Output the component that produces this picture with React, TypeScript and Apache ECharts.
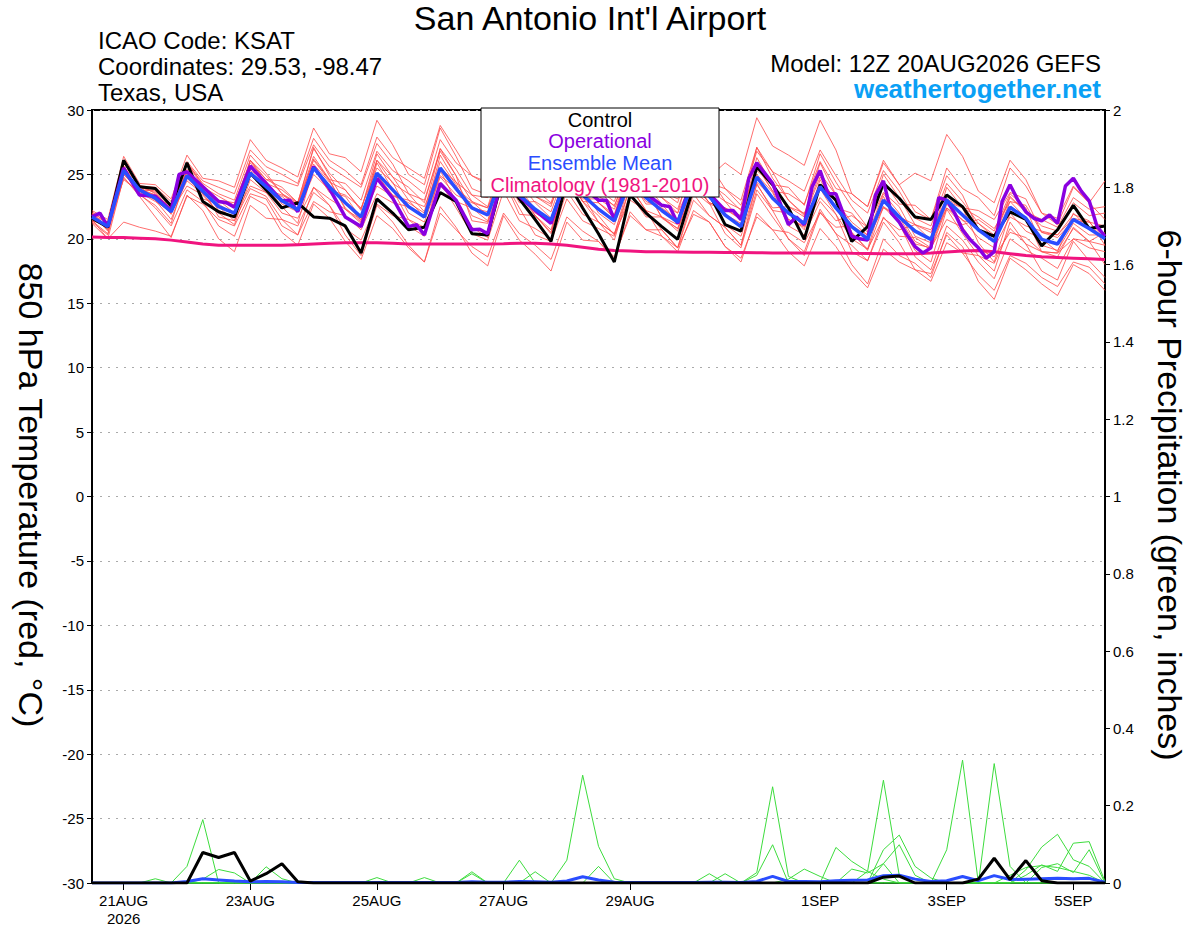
import React, { useEffect, useRef } from "react";
import * as echarts from "echarts";

const FONT = "'Liberation Sans', Arial, Helvetica, sans-serif";
const STEP_HOURS = 6;

// x-axis tick positions (hours after 12Z 20AUG2026) and their labels
const tickHours = [12, 60, 108, 156, 204, 276, 324, 372];
const tickLabels = ["21AUG\n2026", "23AUG", "25AUG", "27AUG", "29AUG", "1SEP", "3SEP", "5SEP"];

// 850 hPa temperature (°C), 6-hourly
const control = [
  21.6, 20.9, 26.1, 24.05, 23.9, 22.55, 25.9, 22.9, 22.1, 21.7, 25.1, 23.8,
  22.4, 22.8, 21.7, 21.6, 21.0, 18.9, 23.1, 22.0, 20.7, 20.9, 23.6, 22.9,
  20.4, 20.3, 25.0, 23.1, 21.5, 19.8, 24.5, 22.4, 20.4, 18.2, 23.4, 22.0,
  20.95, 19.96, 24.0, 23.5, 21.1, 20.6, 25.6, 24.2, 22.4, 19.96, 24.2, 23.0,
  19.8, 20.95, 24.3, 23.15, 21.7, 21.5, 23.4, 22.5, 20.7, 20.2, 22.1, 21.5,
  19.45, 20.7, 22.6, 20.8, 21.0,
];

const ensembleMean = [
  21.7, 20.95, 25.3, 23.8, 23.15, 22.1, 24.9, 23.7, 22.5, 22.0, 25.1, 24.05,
  22.95, 22.25, 25.5, 24.05, 22.8, 21.7, 25.1, 23.8, 22.5, 21.7, 25.5, 23.9,
  22.4, 21.85, 25.3, 23.4, 22.3, 21.45, 24.8, 23.4, 22.3, 21.4, 24.6, 23.2,
  22.2, 21.3, 24.5, 23.3, 21.85, 20.95, 24.8, 23.15, 22.0, 21.2, 24.05, 22.4,
  20.95, 20.0, 23.0, 21.7, 20.6, 19.96, 23.0, 21.85, 20.7, 19.8, 22.45, 21.6,
  19.96, 19.6, 21.5, 20.8, 20.0,
];

// operational run, [hour, °C] (3-hourly where visible)
const operational: [number, number][] = [
  [0, 21.7], [3, 22.0], [6, 20.95], [12, 25.5], [18, 23.4], [24, 23.3], [30, 22.2], [33, 25.0],
  [36, 25.2], [42, 24.05], [48, 22.9], [51, 22.8], [54, 22.45], [60, 25.65], [66, 24.3], [72, 22.95],
  [75, 23.0], [78, 22.1], [84, 25.6], [90, 23.9], [96, 21.7], [102, 20.95], [108, 24.7], [114, 23.15],
  [120, 20.95], [123, 21.1], [126, 20.3], [132, 24.3], [138, 23.0], [144, 20.7], [147, 20.75], [150, 20.4],
  [156, 25.2], [162, 23.3], [168, 22.2], [174, 21.2], [180, 25.0], [186, 24.0], [192, 23.0], [195, 23.0],
  [198, 21.5], [204, 25.0], [210, 23.5], [216, 22.6], [219, 22.5], [222, 21.2], [228, 25.0], [234, 23.5],
  [240, 22.2], [243, 22.2], [246, 21.5], [249, 24.7], [252, 25.9], [258, 24.3], [264, 21.1], [267, 21.7],
  [270, 21.1], [273, 24.05], [276, 25.3], [279, 23.5], [282, 23.5], [288, 20.2], [291, 20.0], [294, 19.9],
  [297, 23.4], [300, 24.5], [303, 22.0], [306, 21.3], [309, 20.3], [312, 19.4], [315, 18.9], [318, 19.3],
  [321, 23.2], [324, 23.0], [327, 22.0], [330, 20.7], [333, 19.9], [336, 19.3], [339, 18.5], [342, 19.0],
  [345, 22.9], [348, 24.2], [351, 23.0], [354, 22.1], [357, 21.6], [360, 21.4], [363, 21.85], [366, 21.2],
  [369, 24.1], [372, 24.7], [375, 23.7], [378, 22.95], [381, 20.95], [384, 20.2],
];

const climatology = [
  20.15, 20.1, 20.1, 20.05, 20.0, 19.9, 19.75, 19.6, 19.5, 19.5, 19.5, 19.5,
  19.5, 19.55, 19.6, 19.65, 19.7, 19.7, 19.7, 19.65, 19.6, 19.6, 19.6, 19.6,
  19.6, 19.6, 19.62, 19.65, 19.65, 19.6, 19.5, 19.35, 19.2, 19.1, 19.05, 19.0,
  19.0, 18.98, 18.95, 18.95, 18.93, 18.93, 18.92, 18.9, 18.9, 18.9, 18.9, 18.9,
  18.88, 18.87, 18.85, 18.85, 18.85, 18.9, 18.98, 19.05, 19.1, 19.0, 18.85, 18.7,
  18.6, 18.55, 18.5, 18.45, 18.4,
];

// ensemble members (red), 6-hourly °C
const m01 = [22.0,21.3,25.9,24.1, 24.0,22.9,26.0,24.5, 24.0,23.5,26.9,25.6, 25.0,24.3,27.8,26.1, 25.3,24.2,27.9,26.3, 25.5,24.7,28.8,26.9, 24.9,24.4,28.1,25.9, 24.3,23.5,27.1,25.4, 23.8,22.9,26.4,24.7, 23.2,22.3,25.8,24.3, 23.9,23.0,27.1,25.2, 24.5,23.7,26.9,24.9, 23.0,22.0,25.3,23.7, 21.6,21.0,24.3,22.9, 21.2,20.3,23.3,22.1, 21.0,20.6,22.8,21.8, 22.0];
const m02 = [21.4,20.4,24.7,23.5, 22.4,21.0,23.8,22.9, 21.0,20.2,23.3,22.6, 20.5,19.5,22.7,21.6, 19.8,18.4,21.8,20.8, 19.3,18.2,22.0,20.7, 19.4,18.6,22.0,20.4, 19.5,18.4,21.7,20.6, 19.8,18.6,21.8,20.7, 20.2,19.0,22.2,21.3, 19.4,18.2,22.0,20.7, 19.0,17.9,20.8,19.4, 17.5,16.2,19.2,18.2, 17.6,16.7,19.7,18.9, 17.2,16.0,18.7,18.1, 17.0,16.3,18.2,17.8, 16.5];
const m03 = [22.2,21.5,26.4,24.3, 24.2,23.1,26.5,24.7, 24.5,24.0,27.7,26.1, 25.5,24.8,28.6,26.6, 26.3,25.2,29.2,27.3, 25.0,24.2,28.6,26.4, 23.9,23.4,27.4,24.9, 23.3,22.5,26.4,24.4, 22.8,21.9,25.7,23.7, 23.7,22.8,26.6,24.8, 25.9,25.0,29.4,27.2, 26.5,25.7,29.2,26.9, 23.5,22.5,26.1,24.2, 25.1,24.5,28.1,26.4, 23.7,22.8,26.1,24.6, 22.0,21.6,24.1,22.8, 24.5];
const m04 = [21.2,20.0,24.8,23.3, 21.7,20.1,23.4,22.2, 20.0,19.0,22.6,21.6, 21.5,20.3,24.0,22.6, 20.3,18.7,22.6,21.3, 19.5,18.2,22.5,20.9, 18.9,17.9,21.8,19.9, 18.8,17.5,21.3,19.9, 19.8,18.4,22.1,20.7, 20.7,19.3,23.0,21.8, 20.9,19.5,23.8,22.2, 20.0,18.7,22.1,20.4, 18.0,16.5,20.0,18.7, 18.1,17.0,20.5,19.4, 16.7,15.3,18.5,17.6, 16.5,15.6,18.0,17.3, 16.0];
const m05 = [21.9,20.7,26.0,24.0, 23.7,22.1,25.9,24.2, 23.0,22.0,26.1,24.6, 24.0,22.8,27.0,25.1, 23.8,22.2,26.6,24.8, 23.0,21.7,26.5,24.4, 22.4,21.4,25.8,23.4, 21.8,20.5,24.8,22.9, 21.3,19.9,24.1,22.2, 20.7,19.3,23.5,21.8, 20.9,19.5,24.3,22.2, 22.0,20.7,24.6,22.4, 22.0,20.5,24.5,22.7, 22.6,21.5,25.5,23.9, 23.2,21.8,25.5,24.1, 22.0,21.1,24.0,22.8, 21.5];
const m06 = [21.5,21.1,24.6,23.6, 22.9,22.1,24.1,23.4, 22.0,21.8,24.1,23.6, 22.0,21.6,24.0,23.1, 22.3,21.5,24.1,23.3, 23.0,22.5,25.5,24.4, 23.4,23.2,25.8,24.4, 23.8,23.3,25.8,24.9, 24.3,23.7,26.1,25.2, 23.7,23.1,25.5,24.8, 22.9,22.3,25.3,24.2, 22.5,22.0,24.1,22.9, 21.0,20.3,22.5,21.7, 19.6,19.3,21.5,20.9, 19.2,18.6,20.5,20.1, 19.0,18.9,20.0,19.8, 19.5];
const m07 = [22.1,21.2,25.9,24.2, 23.5,22.2,25.4,24.0, 23.3,22.6,26.1,24.9, 23.5,22.6,26.2,24.6, 24.3,23.0,26.8,25.3, 24.5,23.5,27.7,25.9, 24.9,24.2,28.0,25.9, 23.8,22.8,26.5,24.9, 22.8,21.7,25.3,23.7, 21.7,20.6,24.2,22.8, 20.4,19.3,23.5,21.7, 20.0,19.0,22.3,20.4, 19.5,18.3,21.7,20.2, 20.1,19.3,22.7,21.4, 21.2,20.1,23.2,22.1, 21.5,20.9,23.2,22.3, 22.5];
const m08 = [21.3,20.3,25.7,23.4, 22.6,21.2,25.1,23.1, 22.7,21.9,26.1,24.3, 23.8,22.8,27.1,24.9, 22.8,21.4,25.9,23.8, 21.5,20.4,25.3,22.9, 20.9,20.1,24.6,21.9, 21.8,20.7,25.1,22.9, 22.8,21.6,25.9,23.7, 23.2,22.0,26.3,24.3, 23.4,22.2,27.1,24.7, 23.0,21.9,25.9,23.4, 20.5,19.2,23.3,21.2, 19.1,18.2,22.3,20.4, 18.7,17.5,21.3,19.6, 17.5,16.8,19.8,18.3, 17.0];
const m09 = [21.8,21.3,25.0,23.9, 23.4,22.5,24.7,23.9, 21.7,21.4,23.9,23.3, 21.5,21.0,23.6,22.6, 20.8,19.9,22.7,21.8, 21.5,20.9,24.1,22.9, 22.4,22.1,24.9,23.4, 23.3,22.7,25.4,24.4, 23.3,22.6,25.2,24.2, 22.7,22.0,24.6,23.8, 21.9,21.2,24.4,23.2, 21.5,20.9,23.2,21.9, 20.0,19.2,21.6,20.7, 21.1,20.7,23.1,22.4, 22.2,21.5,23.6,23.1, 20.5,20.3,21.6,21.3, 20.0];
const m10 = [21.6,20.9,25.6,23.7, 23.8,22.7,25.9,24.3, 23.5,23.0,26.5,25.1, 23.5,22.8,26.4,24.6, 22.3,21.2,25.0,23.3, 21.0,20.2,24.4,22.4, 20.4,19.9,23.7,21.4, 20.8,20.0,23.7,21.9, 21.3,20.4,24.0,22.2, 21.7,20.8,24.4,22.8, 22.4,21.5,25.7,23.7, 23.5,22.7,26.0,23.9, 23.5,22.5,25.9,24.2, 22.1,21.5,24.9,23.4, 20.7,19.8,22.9,21.6, 19.0,18.6,20.9,19.8, 18.0];
const m11 = [22.0,20.9,25.6,24.1, 23.0,21.5,24.7,23.5, 22.0,21.1,24.6,23.6, 23.3,22.2,25.8,24.4, 23.8,22.3,26.1,24.8, 24.0,22.8,27.0,25.4, 23.4,22.5,26.3,24.4, 22.8,21.6,25.3,23.9, 23.8,22.5,26.1,24.7, 24.7,23.4,27.0,25.8, 23.9,22.6,26.8,25.2, 23.0,21.8,25.1,23.4, 20.5,19.1,22.5,21.2, 18.6,17.6,21.0,19.9, 18.2,16.9,20.0,19.1, 18.5,17.7,20.0,19.3, 19.0];
const m12 = [21.4,21.0,25.3,23.5, 23.2,22.4,25.2,23.7, 23.0,22.8,25.9,24.6, 24.5,24.1,27.3,25.6, 24.8,24.0,27.4,25.8, 23.5,23.0,26.8,24.9, 21.4,21.2,24.6,22.4, 20.3,19.8,23.1,21.4, 20.8,20.2,23.4,21.7, 21.7,21.1,24.3,22.8, 22.4,21.8,25.6,23.7, 21.5,21.0,23.9,21.9, 19.0,18.3,21.3,19.7, 17.6,17.3,20.3,18.9, 18.7,18.1,20.8,19.6, 19.0,18.9,20.8,19.8, 20.5];
const m13 = [21.5,20.0,21.3,20.9, 20.6,20.2,23.3,22.7, 21.5,21.0,23.5,23.1, 21.0,20.3,22.9,22.1, 21.8,20.7,23.5,22.8, 22.5,21.7,24.9,23.9, 22.9,22.4,25.2,23.9, 22.3,21.5,24.2,23.4, 21.3,20.4,23.0,22.2, 20.2,19.3,21.9,21.3, 19.4,18.5,21.7,20.7, 20.5,19.7,22.0,20.9, 21.0,20.0,22.4,21.7, 21.1,20.5,22.9,22.4, 21.7,20.8,22.9,22.6, 20.5,20.1,21.4,21.3, 21.0];
const m14 = [21.9,20.6,26.0,24.0, 23.6,21.9,25.8,24.1, 22.5,21.4,25.6,24.1, 22.5,21.2,25.5,23.6, 23.3,21.6,26.1,24.3, 23.5,22.1,27.0,24.9, 22.9,21.8,26.3,23.9, 21.8,20.4,24.8,22.9, 21.8,20.3,24.6,22.7, 22.7,21.2,25.5,23.8, 22.9,21.4,26.3,24.2, 24.0,22.6,26.6,24.4, 22.5,20.9,25.0,23.2, 21.1,19.9,24.0,22.4, 19.7,18.2,22.0,20.6, 20.0,19.0,22.0,20.8, 21.0];
const m15 = [21.7,21.0,25.5,23.8, 23.4,22.3,25.3,23.9, 22.2,21.7,25.0,23.8, 23.4,22.7,26.1,24.5, 22.4,21.3,24.9,23.4, 22.8,22.0,26.0,24.2, 21.8,21.3,24.9,22.8, 22.9,22.1,25.6,24.0, 22.0,21.1,24.5,22.9, 22.4,21.5,24.9,23.5, 21.1,20.2,24.2,22.4, 22.5,21.7,24.8,22.9, 21.3,20.3,23.5,22.0, 19.8,19.2,22.4,21.1, 21.5,20.6,23.5,22.4, 19.5,19.1,21.2,20.3, 20.3];
const m16 = [21.6,21.0,25.0,23.7, 23.0,22.0,24.5,23.5, 22.9,22.5,25.3,24.5, 22.7,22.1,25.0,23.8, 23.4,22.4,25.5,24.4, 22.0,21.3,24.8,23.4, 22.8,22.4,25.5,23.8, 22.0,21.3,24.3,23.1, 23.1,22.3,25.2,24.0, 21.6,20.8,23.7,22.7, 22.3,21.5,25.0,23.6, 21.0,20.3,22.9,21.4, 21.8,20.9,23.6,22.5, 20.2,19.7,22.4,21.5, 20.1,19.3,21.7,21.0, 20.6,20.3,21.9,21.4, 19.5];
const members = [m01, m02, m03, m04, m05, m06, m07, m08, m09, m10, m11, m12, m13, m14, m15, m16];

// 6-hour precipitation (inches)
const controlPrecip = [
  0, 0, 0, 0, 0, 0, 0, 0.079, 0.066, 0.079, 0.005, 0.024, 0.05, 0.003, 0, 0,
  0, 0, 0, 0, 0, 0, 0, 0, 0, 0, 0, 0, 0, 0, 0, 0,
  0, 0, 0, 0, 0, 0, 0, 0, 0, 0, 0, 0, 0, 0, 0, 0,
  0, 0, 0.015, 0.018, 0, 0, 0, 0, 0.01, 0.064, 0.009, 0.058, 0.006, 0, 0, 0, 0,
];
const meanPrecip = [
  0, 0, 0, 0, 0, 0, 0.004, 0.011, 0.008, 0.005, 0.003, 0.004, 0.003, 0.001, 0.001, 0.001,
  0.001, 0.001, 0.001, 0.001, 0.001, 0.001, 0.001, 0.001, 0.003, 0.002, 0.002, 0.004, 0.003, 0.002, 0.005, 0.016,
  0.008, 0.002, 0.001, 0.001, 0.001, 0.001, 0.001, 0.002, 0.002, 0.001, 0.004, 0.017, 0.004, 0.004, 0.003, 0.006,
  0.007, 0.008, 0.019, 0.02, 0.01, 0.004, 0.006, 0.017, 0.006, 0.019, 0.009, 0.01, 0.011, 0.012, 0.011, 0.012, 0.002,
];
// member precipitation, only the 6-hour steps with rain (others are 0)
const precipA: Record<number, number> = { 6: 0.043, 7: 0.164, 27: 0.059, 42: 0.027, 43: 0.249, 44: 0.017 };
const precipB: Record<number, number> = { 4: 0.011, 7: 0.01, 8: 0.035, 9: 0.026, 28: 0.029, 42: 0.02, 43: 0.099, 57: 0.309, 58: 0.043 };
const precipC: Record<number, number> = { 11: 0.042, 12: 0.011, 30: 0.059, 31: 0.279, 32: 0.095, 33: 0.011, 54: 0.086, 55: 0.318 };
const precipD: Record<number, number> = { 18: 0.014, 32: 0.043, 47: 0.092, 48: 0.056, 49: 0.03, 50: 0.01, 59: 0.034, 60: 0.093, 61: 0.126, 62: 0.06, 63: 0.043 };
const precipE: Record<number, number> = { 21: 0.014, 39: 0.024, 48: 0.036, 49: 0.026, 50: 0.05, 59: 0.02, 60: 0.047, 61: 0.03, 62: 0.103, 63: 0.107, 64: 0.004 };
const precipF: Record<number, number> = { 24: 0.029, 40: 0.024, 49: 0.03, 50: 0.266, 51: 0.02 };
const precipG: Record<number, number> = { 24: 0.024, 44: 0.01, 45: 0.036, 46: 0.017, 50: 0.086, 51: 0.124, 52: 0.043, 53: 0.013, 58: 0.02, 59: 0.04, 60: 0.045, 61: 0.04, 62: 0.03, 63: 0.02 };
const precipH: Record<number, number> = { 50: 0.05, 51: 0.099, 52: 0.02, 60: 0.04, 61: 0.05, 62: 0.027, 63: 0.086 };
const precipMembers = [precipA, precipB, precipC, precipD, precipE, precipF, precipG, precipH];

const N_STEPS = 65;

export default function App() {
  const ref = useRef<HTMLDivElement>(null);

  useEffect(() => {
    if (!ref.current) return;
    const chart = echarts.init(ref.current, null, { renderer: "svg" });
    const toPairs = (arr: number[]) => arr.map((v, i) => [i * STEP_HOURS, v]);
    const expand = (sp: Record<number, number>) =>
      Array.from({ length: N_STEPS }, (_, i) => (sp[i] !== undefined ? sp[i] : 0));

    const series: any[] = [];
    members.forEach((m, k) => {
      series.push({
        type: "line", name: "member" + (k + 1), data: toPairs(m), yAxisIndex: 0,
        symbol: "none", silent: true, z: 2,
        lineStyle: { color: "#ff4a4a", width: 1, opacity: 0.8 },
      });
    });
    precipMembers.forEach((p, k) => {
      series.push({
        type: "line", name: "precip" + (k + 1), data: toPairs(expand(p)), yAxisIndex: 1,
        symbol: "none", silent: true, z: 3,
        lineStyle: { color: "#3ddc3d", width: 1 },
      });
    });
    series.push({
      type: "line", name: "Climatology", data: toPairs(climatology), yAxisIndex: 0,
      symbol: "none", z: 4, lineStyle: { color: "#f0147f", width: 3 },
    });
    series.push({
      type: "line", name: "Mean precip", data: toPairs(meanPrecip), yAxisIndex: 1,
      symbol: "none", z: 5, lineStyle: { color: "#2a4dff", width: 3 },
    });
    series.push({
      type: "line", name: "Control precip", data: toPairs(controlPrecip), yAxisIndex: 1,
      symbol: "none", z: 6, lineStyle: { color: "#000000", width: 3 },
    });
    series.push({
      type: "line", name: "Control", data: toPairs(control), yAxisIndex: 0,
      symbol: "none", z: 6, lineStyle: { color: "#000000", width: 3 },
    });
    series.push({
      type: "line", name: "Operational", data: operational, yAxisIndex: 0,
      symbol: "none", z: 7, lineStyle: { color: "#8a00e0", width: 3.5 },
    });
    series.push({
      type: "line", name: "Ensemble Mean", data: toPairs(ensembleMean), yAxisIndex: 0,
      symbol: "none", z: 8, lineStyle: { color: "#2a4dff", width: 3.5 },
    });

    const txt = (text: string, x: number, y: number, size: number, align: string, color = "#000", weight = "normal") => ({
      type: "text", x, y, z: 101,
      style: {
        text, fill: color, font: `${weight} ${size}px ${FONT}`, lineHeight: size,
        textAlign: align, textVerticalAlign: "middle",
      },
    });

    chart.setOption({
      animation: false,
      backgroundColor: "#ffffff",
      textStyle: { fontFamily: FONT },
      grid: { left: 92, top: 110, width: 1013, height: 773, show: true, borderColor: "#000", borderWidth: 2, backgroundColor: "transparent" },
      xAxis: {
        type: "value", min: 0, max: 384,
        axisLine: { show: true, onZero: false, lineStyle: { color: "#000", width: 2 } },
        axisTick: { show: true, customValues: tickHours, length: 7, lineStyle: { color: "#000", width: 1 } },
        axisLabel: {
          customValues: tickHours,
          formatter: (v: number) => {
            const idx = tickHours.indexOf(Math.round(v));
            return idx >= 0 ? tickLabels[idx] : "";
          },
          color: "#000", fontSize: 15, fontFamily: FONT, margin: 8, lineHeight: 18,
        },
        splitLine: { show: false },
      },
      yAxis: [
        {
          type: "value", min: -30, max: 30, interval: 5, position: "left",
          axisLine: { show: true, lineStyle: { color: "#000", width: 2 } },
          axisTick: { show: true, length: 5, lineStyle: { color: "#000", width: 1 } },
          axisLabel: { color: "#000", fontSize: 15, fontFamily: FONT, margin: 8 },
          splitLine: { show: true, lineStyle: { color: "#aaaaaa", width: 1, type: [2, 6] } },
        },
        {
          type: "value", min: 0, max: 2, interval: 0.2, position: "right",
          axisLine: { show: true, lineStyle: { color: "#000", width: 2 } },
          axisTick: { show: true, length: 5, lineStyle: { color: "#000", width: 1 } },
          axisLabel: { color: "#000", fontSize: 15, fontFamily: FONT, margin: 8 },
          splitLine: { show: false },
        },
      ],
      series,
      graphic: [
        txt("San Antonio Int'l Airport", 590, 18, 34, "center"),
        txt("ICAO Code: KSAT", 98, 40, 24, "left"),
        txt("Coordinates: 29.53, -98.47", 98, 66, 24, "left"),
        txt("Texas, USA", 98, 92, 24, "left"),
        txt("Model: 12Z 20AUG2026 GEFS", 1101, 63, 24, "right"),
        txt("weathertogether.net", 1101, 89, 26, "right", "#0aa0f5", "bold"),
        {
          type: "rect", z: 100,
          shape: { x: 481, y: 108, width: 238, height: 89 },
          style: { fill: "#ffffff", stroke: "#000000", lineWidth: 1 },
        },
        txt("Control", 600, 120, 20, "center", "#000000"),
        txt("Operational", 600, 141, 20, "center", "#8a00e0"),
        txt("Ensemble Mean", 600, 163, 20, "center", "#2a4dff"),
        txt("Climatology (1981-2010)", 600, 185, 20, "center", "#f0147f"),
        {
          type: "text", x: 31, y: 495, rotation: -Math.PI / 2, z: 101,
          style: { text: "850 hPa Temperature (red, °C)", fill: "#000", font: `34px ${FONT}`, textAlign: "center", textVerticalAlign: "middle" },
        },
        {
          type: "text", x: 1170, y: 495, rotation: -Math.PI / 2, z: 101,
          style: { text: "6-hour Precipitation (green, inches)", fill: "#000", font: `34px ${FONT}`, textAlign: "center", textVerticalAlign: "middle" },
        },
      ],
    });

    return () => chart.dispose();
  }, []);

  return (
    <div
      ref={ref}
      style={{ position: "absolute", left: 0, top: 0, width: 1200, height: 927, background: "#fff" }}
    />
  );
}
